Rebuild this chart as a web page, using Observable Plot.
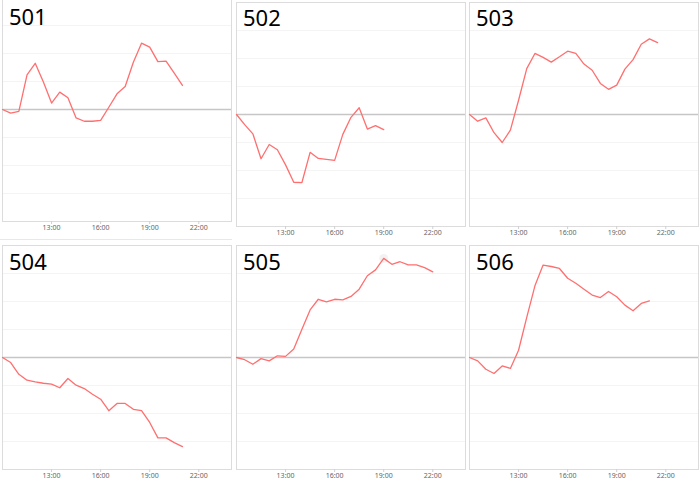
<!DOCTYPE html>
<html><head><meta charset="utf-8">
<script src="https://cdn.jsdelivr.net/npm/d3@7"></script>
<script src="https://cdn.jsdelivr.net/npm/@observablehq/plot@0.6"></script>
<style>
html,body{margin:0;padding:0;background:#fff;}
#wrap{position:relative;width:700px;height:484px;overflow:hidden;font-family:"Noto Sans",sans-serif;}
.panel{position:absolute;}
.panel svg{display:block;overflow:visible;}
#outline501{position:absolute;left:0;top:0;width:232px;height:239px;border-bottom:1px solid #e8e8e8;}
</style></head><body><div id="wrap"><div id="outline501"></div></div>
<script>
const times = ["10:00","10:30","11:00","11:30","12:00","12:30","13:00","13:30","14:00","14:30","15:00","15:30","16:00","16:30","17:00","17:30","18:00","18:30","19:00","19:30","20:00","20:30","21:00","21:30","22:00"];
const tickLabels = ["13:00","16:00","19:00","22:00"];
const panels = ["501","502","503","504","505","506"];
const s501 = [0,-0.13,-0.07,1.24,1.65,0.98,0.23,0.62,0.42,-0.30,-0.42,-0.42,-0.39,0.08,0.56,0.82,1.69,2.37,2.23,1.71,1.73,1.30,0.86];
const s502 = [0,-0.36,-0.69,-1.58,-1.07,-1.26,-1.80,-2.42,-2.43,-1.35,-1.57,-1.60,-1.64,-0.71,-0.10,0.24,-0.52,-0.40,-0.54];
const s503 = [0,-0.24,-0.12,-0.65,-1.0,-0.56,0.51,1.64,2.18,2.04,1.87,2.06,2.26,2.18,1.80,1.58,1.11,0.90,1.05,1.62,1.96,2.51,2.70,2.57];
const s504 = [0,-0.18,-0.60,-0.81,-0.87,-0.92,-0.95,-1.08,-0.75,-0.99,-1.11,-1.31,-1.49,-1.90,-1.64,-1.64,-1.85,-1.90,-2.32,-2.87,-2.87,-3.04,-3.18];
const s505 = [0,-0.08,-0.24,-0.04,-0.12,0.06,0.04,0.30,1.01,1.70,2.08,1.99,2.08,2.06,2.18,2.44,2.92,3.13,3.54,3.33,3.42,3.31,3.31,3.21,3.06];
const s506 = [0,-0.12,-0.42,-0.57,-0.30,-0.39,0.26,1.43,2.56,3.30,3.25,3.18,2.83,2.65,2.44,2.23,2.14,2.36,2.17,1.87,1.67,1.93,2.02];
const series = [s501,s502,s503,s504,s505,s506];

const layout = [
  {left:2, top:-3, dy:12.3},
  {left:236, top:2, dy:8.3},
  {left:468.5, top:2, dy:8.3},
  {left:2, top:244.5, dy:8.5},
  {left:235.7, top:244.5, dy:8.5},
  {left:469, top:244.5, dy:8.5}
];

const parse = d3.utcParse("%H:%M");
const t0 = parse(times[0]);
const t1 = d3.utcHour.offset(t0, 14);
const wrap = document.getElementById("wrap");

series.forEach((vals, i) => {
  const data = vals.map((v, j) => ({t: parse(times[j]), v}));
  const L = layout[i];
  const extra = i === 4 ? [Plot.dot([data[18]], {x:"t", y:"v", r:4.5, fill:"#ececec", fillOpacity:0.7, stroke:"none"})] : [];
  const chart = Plot.plot({
    width: 231, height: 239,
    marginLeft: 1, marginRight: 1, marginTop: 1, marginBottom: 14,
    x: {type: "utc", domain: [t0, t1], label: null},
    y: {domain: [-4, 4], axis: null, label: null},
    style: {fontFamily: "Noto Sans, sans-serif", background: "transparent", overflow: "visible"},
    marks: [
      Plot.gridY(d3.range(-4, 5), {stroke: "#f4f4f4", strokeOpacity: 1}),
      Plot.ruleY([0], {stroke: "#c6c6c6", strokeWidth: 1.5}),
      Plot.frame({stroke: "#dcdcdc"}),
      Plot.axisX(tickLabels.map(parse), {tickFormat: d3.utcFormat("%H:%M"), tickSize: 3, tickPadding: 1, fontSize: 7, fill: "#666", stroke: "#d0d0d0", label: null}),
      ...extra,
      Plot.line(data, {x: "t", y: "v", stroke: "#ff6f6f", strokeWidth: 1.3}),
      Plot.text([panels[i]], {frameAnchor: "top-left", text: d => d, dx: 6.5, dy: L.dy, lineAnchor: "top", textAnchor: "start", fontSize: 22, fill: "#000"})
    ]
  });
  const div = document.createElement("div");
  div.className = "panel";
  div.style.left = (L.left - 1) + "px";
  div.style.top = (L.top - 1) + "px";
  div.appendChild(chart);
  wrap.appendChild(div);
});
</script></body></html>
